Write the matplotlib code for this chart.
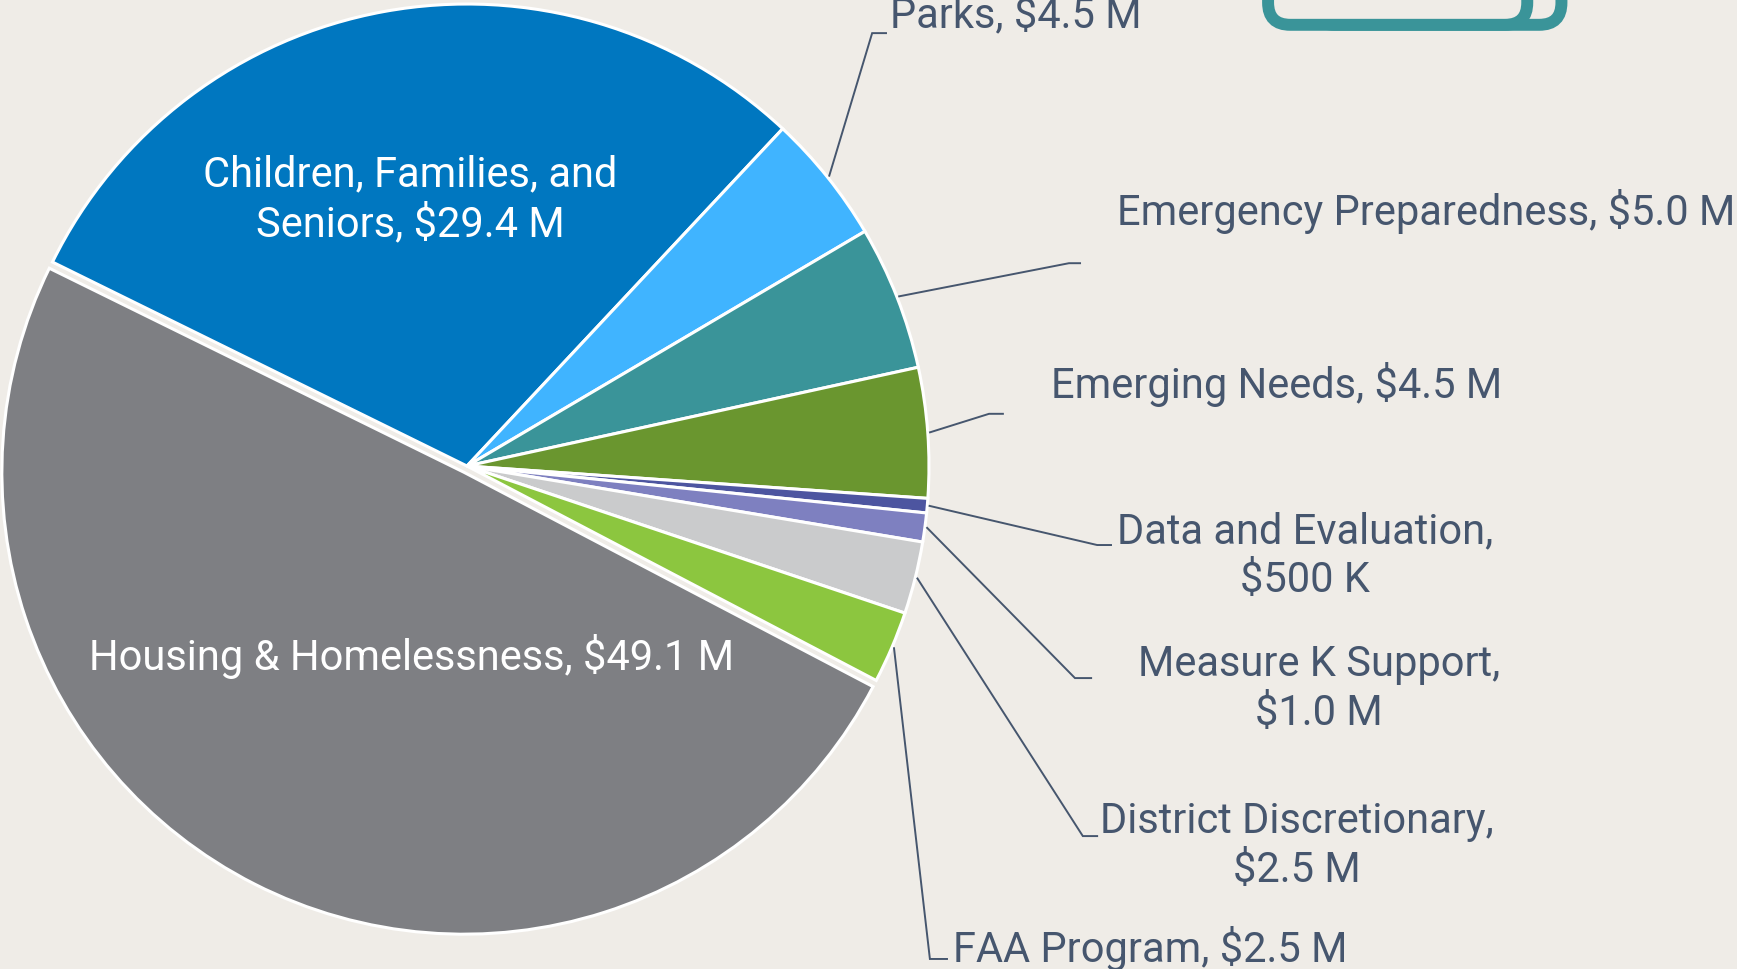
# budget pie chart with leader labels
import numpy as np
import matplotlib
matplotlib.use('Agg')
import matplotlib.pyplot as plt
from matplotlib.patches import FancyBboxPatch

names = ['Children, Families, and\nSeniors', 'Parks', 'Emergency Preparedness',
         'Emerging Needs', 'Data and Evaluation,\n', 'Measure K Support,\n',
         'District Discretionary,\n', 'FAA Program', 'Housing & Homelessness']
amounts = [29.4, 4.5, 5.0, 4.5, 0.5, 1.0, 2.5, 2.5, 49.1]
amount_labels = ['$29.4 M', '$4.5 M', '$5.0 M', '$4.5 M', '$500 K', '$1.0 M',
                 '$2.5 M', '$2.5 M', '$49.1 M']
colors = ['#0077C0', '#40B4FF', '#3A9499', '#6A962F', '#4D55A0', '#7E80C0',
          '#CACBCC', '#8CC63F', '#7E7F83']

BG = '#EFECE7'
INK = '#46566E'
FS = 30

plt.rcParams['font.family'] = ['Roboto', 'DejaVu Sans']

fig = plt.figure(figsize=(17.37, 9.69), dpi=100, facecolor=BG)
ax = fig.add_axes([0, 0, 1, 1])
ax.set_facecolor(BG)

explode = [0] * 8 + [0.015]
wedges, _ = ax.pie(amounts, colors=colors, startangle=153.8, counterclock=False,
                   explode=explode, radius=1.0,
                   wedgeprops=dict(edgecolor='white', linewidth=2.2))

ax.set_xlim(-1.0108, 2.749)
ax.set_ylim(-1.0887, 1.0087)
ax.set_aspect('auto')
ax.axis('off')

# inside labels
ax.text(-0.123, 0.576, names[0] + ', ' + amount_labels[0], color='white',
        fontsize=FS, ha='center', va='center', linespacing=1.25)
ax.text(-0.121, -0.413, names[8] + ', ' + amount_labels[8], color='white',
        fontsize=FS, ha='center', va='center')

# leader lines: elbow x, elbow y, end x
elbows = {1: (0.877, 0.937, 0.907), 2: (1.303, 0.439, 1.327),
          3: (1.130, 0.113, 1.160), 4: (1.364, -0.171, 1.394),
          5: (1.316, -0.459, 1.351), 6: (1.333, -0.801, 1.364),
          7: (1.002, -1.067, 1.039)}
for i, (ex, ey, endx) in elbows.items():
    w = wedges[i]
    mid = np.deg2rad((w.theta1 + w.theta2) / 2)
    sx, sy = 1.005 * np.cos(mid), 1.005 * np.sin(mid)
    ax.plot([sx, ex, endx], [sy, ey, ey], color=INK, lw=1.4,
            solid_joinstyle='miter', clip_on=False)

# single-line outside labels (left aligned, baseline)
single = {1: (0.916, 0.950), 2: (1.407, 0.522), 3: (1.264, 0.147), 7: (1.052, -1.074)}
for i, (tx, ty) in single.items():
    ax.text(tx, ty, names[i] + ', ' + amount_labels[i], color=INK, fontsize=FS,
            ha='left', va='baseline')

# two-line outside labels (centered)
double = {4: (1.814, -0.195), 5: (1.844, -0.483), 6: (1.797, -0.823)}
for i, (tx, ty) in double.items():
    ax.text(tx, ty, names[i] + amount_labels[i], color=INK, fontsize=FS,
            ha='center', va='center', linespacing=1.25)

# cropped teal icon at the top right
r = 0.048
back = FancyBboxPatch((1.83, 0.955), 2.369 - 1.83, 0.4,
                      boxstyle='round,pad=0,rounding_size=%f' % r,
                      fc=BG, ec='#3A9499', lw=8.6, zorder=3, clip_on=False)
front = FancyBboxPatch((1.734, 0.955), 2.295 - 1.734, 0.4,
                       boxstyle='round,pad=0,rounding_size=%f' % r,
                       fc=BG, ec='#3A9499', lw=8.6, zorder=4, clip_on=False)
ax.add_patch(back)
ax.add_patch(front)

fig.savefig('out.png', dpi=100, facecolor=BG)
